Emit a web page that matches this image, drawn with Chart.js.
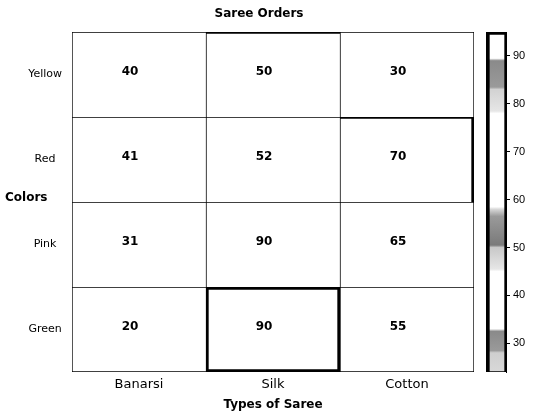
<!DOCTYPE html>
<html>
<head>
<meta charset="utf-8">
<script src="https://cdn.jsdelivr.net/npm/chart.js@4.4.1/dist/chart.umd.min.js"></script>
<style>
  html, body { margin: 0; padding: 0; background: #ffffff; }
  #wrap { position: relative; width: 560px; height: 420px; background: #ffffff; }
  #main { position: absolute; left: 0; top: 0; }
  #bar { position: absolute; left: 470px; top: 0; }
</style>
</head>
<body>
<div id="wrap">
  <canvas id="main" width="518" height="420"></canvas>
  <canvas id="bar" width="90" height="420"></canvas>
</div>
<script>
// ---- data ----
const sareeTypes = ['Banarsi', 'Silk', 'Cotton'];
const colorNames = ['Yellow', 'Red', 'Pink', 'Green'];
const yellowOrders = [40, 50, 30];
const redOrders = [41, 52, 70];
const pinkOrders = [31, 90, 65];
const greenOrders = [20, 90, 55];
const colorbarMin = 24;
const colorbarMax = 95;
const colorbarTicks = [30, 40, 50, 60, 70, 80, 90];
const chartTitle = 'Saree Orders';
const xTitle = 'Types of Saree';
const yTitle = 'Colors';

const rowValues = [yellowOrders, redOrders, pinkOrders, greenOrders];

// ---- styles ----
const FONT = "'DejaVu Sans', Verdana, sans-serif";
// emphasised borders: key "row,col" -> widths
const emphasis = {
  '0,1': { top: 2 },
  '1,2': { top: 2, right: 3 },
  '3,1': { top: 3, right: 3, bottom: 3, left: 3 }
};
function cellBorder(row, col) {
  const b = {
    top: 1,
    left: 1,
    right: col === sareeTypes.length - 1 ? 1 : 0,
    bottom: row === colorNames.length - 1 ? 1 : 0
  };
  const e = emphasis[row + ',' + col];
  if (e) Object.assign(b, e);
  return b;
}

const datasets = rowValues.map((vals, r) => ({
  label: colorNames[r],
  data: vals.map(() => [r, r + 1]),
  values: vals,
  backgroundColor: '#ffffff',
  borderColor: '#000000',
  borderWidth: (ctx) => cellBorder(r, ctx.dataIndex),
  borderSkipped: false,
  barPercentage: 1,
  categoryPercentage: 1,
  grouped: false
}));

const textLayer = {
  id: 'textLayer',
  afterDatasetsDraw(chart) {
    const c = chart.ctx;
    const area = chart.chartArea;
    c.save();
    c.fillStyle = '#000';
    c.textBaseline = 'middle';
    // cell values
    c.font = "bold 12px " + FONT;
    c.textAlign = 'center';
    chart.data.datasets.forEach((ds, i) => {
      const meta = chart.getDatasetMeta(i);
      meta.data.forEach((el, j) => {
        const cy = (el.y + el.base) / 2;
        c.fillText(String(ds.values[j]), el.x - 9, cy - 3);
      });
    });
    // chart title (centred on the figure)
    c.fillText(chartTitle, chart.width / 2, 14);
    // horizontal y-axis title
    c.textAlign = 'left';
    c.fillText(yTitle, 5, (area.top + area.bottom) / 2 - 4);
    c.restore();
  }
};

new Chart(document.getElementById('main'), {
  type: 'bar',
  data: { labels: sareeTypes, datasets },
  options: {
    responsive: false,
    animation: false,
    devicePixelRatio: 1,
    layout: { padding: { left: 17, right: 44, top: 32, bottom: 8 } },
    plugins: {
      legend: { display: false },
      tooltip: { enabled: false },
      title: { display: false }
    },
    scales: {
      x: {
        type: 'category',
        grid: { display: false, drawTicks: false },
        border: { display: false },
        afterFit(scale) { scale.height = 40; },
        ticks: { color: '#000', font: { family: FONT, size: 13 }, padding: 5 },
        title: {
          display: true,
          text: xTitle,
          color: '#000',
          font: { family: FONT, size: 12, weight: 'bold' },
          padding: { top: 0, bottom: 0 }
        }
      },
      y: {
        type: 'linear',
        min: 0,
        max: colorNames.length,
        reverse: true,
        grid: { display: false, drawTicks: false },
        border: { display: false },
        afterFit(scale) { scale.width = 55; },
        afterBuildTicks(scale) {
          scale.ticks = colorNames.map((n, i) => ({ value: i + 0.5 }));
        },
        ticks: {
          color: '#000',
          font: { family: FONT, size: 11 },
          padding: 10,
          crossAlign: 'center',
          callback: (v) => colorNames[Math.floor(v)]
        }
      }
    }
  },
  plugins: [textLayer]
});

// ---- colorbar ----
const colormapStops = [
  [95, '#ffffff'], [89.5, '#ffffff'], [89, '#8a8a8a'], [83.5, '#9a9a9a'],
  [83, '#d2d2d2'], [78.5, '#e6e6e6'], [78, '#ffffff'],
  [58.5, '#ffffff'], [58, '#d8d8d8'], [56.5, '#9a9a9a'], [50.5, '#7a7a7a'],
  [50, '#c8c8c8'], [45.5, '#e6e6e6'], [45, '#ffffff'],
  [33, '#ffffff'], [32.5, '#8a8a8a'], [28.5, '#9a9a9a'], [28, '#cfcfcf'], [24, '#d8d8d8']
];

new Chart(document.getElementById('bar'), {
  type: 'bar',
  data: {
    labels: [''],
    datasets: [{
      data: [[colorbarMin, colorbarMax]],
      backgroundColor: (ctx) => {
        const ch = ctx.chart;
        const area = ch.chartArea;
        if (!area) return '#ffffff';
        const ys = ch.scales.y;
        const y0 = ys.getPixelForValue(colorbarMax);
        const y1 = ys.getPixelForValue(colorbarMin);
        const g = ch.ctx.createLinearGradient(0, y0, 0, y1);
        colormapStops.forEach(([v, col]) => {
          g.addColorStop((colorbarMax - v) / (colorbarMax - colorbarMin), col);
        });
        return g;
      },
      borderColor: '#000',
      borderWidth: { left: 4, top: 3, right: 2, bottom: 1 },
      borderSkipped: false,
      barPercentage: 1,
      categoryPercentage: 1
    }]
  },
  options: {
    responsive: false,
    animation: false,
    devicePixelRatio: 1,
    layout: { padding: { left: 16, right: 24, top: 32, bottom: 48 } },
    plugins: { legend: { display: false }, tooltip: { enabled: false } },
    scales: {
      x: { display: false },
      y: {
        type: 'linear',
        position: 'right',
        min: colorbarMin,
        max: colorbarMax,
        afterFit(scale) { scale.width = 30; },
        afterBuildTicks(scale) {
          scale.ticks = colorbarTicks.map(v => ({ value: v }));
        },
        grid: { display: true, drawOnChartArea: false, drawTicks: true, tickLength: 4, color: '#000' },
        border: { display: true, color: '#000' },
        ticks: { color: '#000', font: { family: "'Liberation Sans', Arial, sans-serif", size: 11 }, padding: 3 }
      }
    }
  }
});
</script>
</body>
</html>
